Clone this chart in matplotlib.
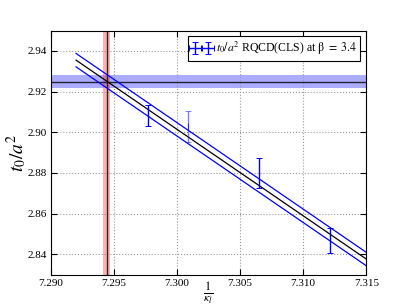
import numpy as np
import matplotlib
matplotlib.use("Agg")
import matplotlib.pyplot as plt

plt.rcParams['font.family'] = ['Liberation Serif', 'DejaVu Serif']
plt.rcParams['mathtext.fontset'] = 'stix'

# data
inv_kappa = [7.29767, 7.30085, 7.30648, 7.31209]
t0_a2 = [2.9082, 2.9029, 2.8798, 2.8467]
t0_err = [0.0052, 0.0075, 0.0073, 0.0061]
point_alpha = [1.0, 0.5, 1.0, 1.0]

# linear fit and its error band
fit_x = [7.292, 7.315]
fit_y = [2.9354, 2.8376]
fit_band = 0.0033

# horizontal / vertical reference bands
t0_target = 2.9249
t0_target_err = 0.0030
kappa_crit = 7.29441
kappa_crit_err = 0.00026

x_ticks = [7.290, 7.295, 7.300, 7.305, 7.310, 7.315]
y_ticks = [2.84, 2.86, 2.88, 2.90, 2.92, 2.94]

fig = plt.figure(figsize=(4.07, 3.05), dpi=100)
ax = fig.add_axes([0.125, 0.1, 0.775, 0.8])

ax.axhspan(t0_target - t0_target_err, t0_target + t0_target_err,
           color='#0000ff', alpha=0.33, lw=0)
ax.axhline(t0_target, color='#222233', lw=1.0)
ax.axvspan(kappa_crit - kappa_crit_err, kappa_crit + kappa_crit_err,
           color='#ff0000', alpha=0.3, lw=0)
ax.axvline(kappa_crit, color='#332222', lw=1.0)

fx = np.array(fit_x)
fy = np.array(fit_y)
ax.plot(fx, fy, color='black', lw=0.9)
ax.plot(fx, fy + fit_band, color='blue', lw=0.9)
ax.plot(fx, fy - fit_band, color='blue', lw=0.9)

for i in range(len(inv_kappa)):
    lbl = r'$t_0/a^2$ RQCD(CLS) at $\mathrm{\beta}\ =\ 3.4$' if i == 0 else None
    ax.errorbar(inv_kappa[i], t0_a2[i], yerr=t0_err[i], xerr=0.0,
                fmt='none', ecolor='#0000ff',
                elinewidth=1.0, capsize=2.5, capthick=0.7,
                alpha=point_alpha[i], label=lbl)

ax.set_xlim(7.290, 7.315)
ax.set_ylim(2.83, 2.95)
ax.set_xticks(x_ticks)
ax.set_yticks(y_ticks)
ax.set_xticklabels(['%.3f' % v for v in x_ticks])
ax.set_yticklabels(['%.2f' % v for v in y_ticks])
ax.tick_params(direction='in', labelsize=8, length=4, pad=3,
               top=True, right=True)
ax.grid(True, color='#999999', linestyle=':', lw=0.8)

ax.set_xlabel(r'$\frac{1}{\kappa_l}$', fontsize=12.5)
ax.xaxis.set_label_coords(0.5, -0.024)
ax.set_ylabel(r'$t_0/a^2$', fontsize=14)
ax.yaxis.set_label_coords(-0.07, 0.5)

leg = ax.legend(loc='upper right', fontsize=8.5, numpoints=2, fancybox=False,
                framealpha=1.0, edgecolor='black', borderaxespad=0.5,
                handlelength=1.7, handletextpad=0.4, borderpad=0.3)
leg.get_frame().set_linewidth(0.8)

fig.savefig('out.png', dpi=100)
